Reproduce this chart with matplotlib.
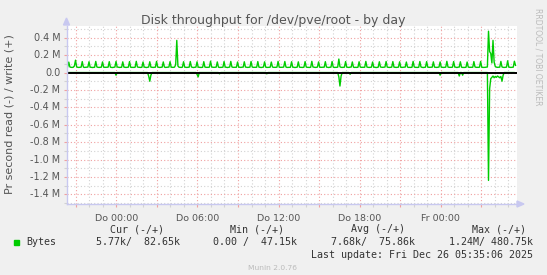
import matplotlib.pyplot as plt
from matplotlib.patches import Rectangle
from matplotlib.ticker import MultipleLocator

W, H = 547, 275

# write throughput, kB/s, one value per 5 min (12 per row = 1 hour)
write_k = [
    62, 63, 120, 64, 60, 59, 61, 75, 142, 66, 60, 59,
    60, 62, 126, 63, 59, 60, 61, 63, 124, 62, 60, 58,
    59, 61, 128, 64, 60, 59, 60, 62, 122, 63, 60, 60,
    61, 62, 125, 62, 59, 58, 60, 63, 127, 64, 61, 59,
    60, 61, 123, 63, 60, 59, 60, 62, 126, 62, 59, 60,
    59, 62, 129, 64, 61, 60, 59, 61, 121, 63, 60, 58,
    60, 63, 124, 62, 60, 59, 61, 62, 128, 64, 60, 59,
    61, 62, 122, 63, 59, 60, 60, 63, 125, 62, 60, 60,
    62, 90, 370, 75, 61, 60, 59, 62, 124, 63, 60, 59,
    60, 62, 127, 64, 60, 58, 61, 62, 123, 62, 60, 59,
    59, 61, 125, 63, 60, 60, 60, 63, 131, 64, 61, 60,
    61, 62, 122, 62, 59, 59, 60, 62, 126, 63, 60, 58,
    60, 63, 128, 64, 60, 60, 59, 61, 121, 62, 60, 59,
    62, 62, 124, 63, 61, 59, 60, 62, 127, 64, 60, 60,
    59, 61, 126, 62, 60, 58, 61, 63, 123, 63, 59, 59,
    60, 62, 121, 64, 60, 60, 60, 62, 128, 62, 60, 60,
    61, 63, 127, 63, 59, 59, 60, 61, 124, 63, 61, 58,
    60, 62, 123, 62, 60, 60, 59, 62, 126, 64, 60, 59,
    59, 61, 129, 64, 61, 59, 60, 63, 122, 62, 60, 60,
    61, 62, 125, 63, 60, 58, 61, 62, 127, 63, 59, 59,
    60, 62, 155, 66, 60, 59, 60, 62, 126, 63, 60, 59,
    62, 63, 122, 62, 59, 60, 59, 61, 124, 64, 60, 60,
    60, 61, 128, 63, 60, 59, 60, 62, 121, 62, 61, 58,
    59, 62, 124, 64, 61, 60, 61, 63, 127, 63, 60, 59,
    61, 62, 126, 62, 60, 59, 60, 62, 123, 62, 59, 60,
    60, 63, 121, 63, 59, 60, 59, 61, 128, 64, 60, 59,
    59, 61, 127, 64, 60, 58, 60, 62, 125, 63, 60, 60,
    61, 62, 123, 62, 61, 59, 61, 63, 122, 62, 60, 59,
    60, 62, 129, 63, 60, 60, 60, 62, 126, 64, 61, 58,
    62, 63, 124, 62, 59, 59, 59, 61, 121, 63, 60, 60,
    60, 61, 126, 64, 60, 60, 60, 62, 128, 62, 59, 59,
    60, 62, 64, 475, 240, 220, 110, 370, 120, 70, 62, 60,
    61, 62, 128, 64, 60, 59, 60, 62, 135, 63, 60, 59,
    60, 62, 130, 82.65,
]

# read throughput, kB/s, non-zero samples only
read_idx = [44, 73, 74, 75, 116, 117, 136, 178, 242, 243, 244, 252, 332,
            349, 352, 375, 376, 377, 378, 379, 380, 381, 382, 383, 384,
            385, 386, 387, 388, 399]
read_k = [30, 40, 100, 30, 20, 50, 15, 15, 50, 155, 40, 20, 30,
          40, 30, 1240, 185, 70, 55, 40, 60, 45, 55, 40, 50,
          60, 45, 100, 30, 5.77]

x_labels = ["Do 00:00", "Do 06:00", "Do 12:00", "Do 18:00", "Fr 00:00"]
x_label_pos = [0, 6, 12, 18, 24]

legend_heads = ["Cur (-/+)", "Min (-/+)", "Avg (-/+)", "Max (-/+)"]
legend_vals = ["5.77k/  82.65k", "0.00 /  47.15k", "7.68k/  75.86k", "1.24M/ 480.75k"]

# sample times in hours relative to Do 00:00
t0 = -3.7
hours = [t0 + i * 5 / 60 for i in range(len(write_k))]
read_full = [0.0] * len(write_k)
for i, v in zip(read_idx, read_k):
    read_full[i] = v

green = '#00CC00'
bg = '#F0F0F0'
axis_col = '#C8C8F0'
mgrid = '#F0A0A0'
grid = '#D2D2D2'

fig = plt.figure(figsize=(W / 100, H / 100), dpi=100, facecolor=bg)
ax = fig.add_axes([66.5 / W, 71 / H, 450.5 / W, 178 / H])
ax.set_facecolor('white')

ax.set_xlim(-3.7, 29.66)
ax.set_ylim(-1.511e6, 0.535e6)

ax.xaxis.set_major_locator(MultipleLocator(3))
ax.xaxis.set_minor_locator(MultipleLocator(1))
ax.yaxis.set_major_locator(MultipleLocator(0.2e6))
ax.yaxis.set_minor_locator(MultipleLocator(0.1e6))
ax.grid(which='major', color=mgrid, linestyle=(0, (1, 2)), lw=0.8)
ax.grid(which='minor', color=grid, linestyle=(0, (1, 2)), lw=0.8)
ax.set_axisbelow(True)

ax.plot(hours, [v * 1e3 for v in write_k], color=green, lw=1)
ax.plot(hours, [-v * 1e3 for v in read_full], color=green, lw=1)
ax.axhline(0, color='black', lw=1.4)

# tick labels
ax.set_xticklabels([])
ax.set_yticklabels([])
ax.tick_params(which='major', length=2.5, color=mgrid, width=0.8)
ax.tick_params(which='minor', length=2.5, color=grid, width=0.8)
for p, lab in zip(x_label_pos, x_labels):
    ax.text(p, -0.055, lab, transform=ax.get_xaxis_transform(), ha='center',
            va='top', fontsize=6.8, color='#555555')
yvals = [0.4, 0.2, 0.0, -0.2, -0.4, -0.6, -0.8, -1.0, -1.2, -1.4]
for v in yvals:
    lab = "0.0" if v == 0 else f"{v:.1f} M"
    ax.text(-0.014, v * 1e6, lab, transform=ax.get_yaxis_transform(),
            ha='right', va='center', fontsize=6.9, color='#555555')

for s in ['top', 'right']:
    ax.spines[s].set_visible(False)
for s in ['left', 'bottom']:
    ax.spines[s].set_color(axis_col)
    ax.spines[s].set_linewidth(1)

# axis arrows
fig.patches.append(plt.Polygon([[63.5 / W, (H - 25) / H], [69.5 / W, (H - 25) / H],
                                [66.5 / W, (H - 18) / H]], closed=True,
                               transform=fig.transFigure, color=axis_col))
fig.patches.append(plt.Polygon([[517 / W, (H - 201) / H], [517 / W, (H - 207) / H],
                                [524 / W, (H - 204) / H]], closed=True,
                               transform=fig.transFigure, color=axis_col))

fig.text(273.5 / W, 1 - 20.5 / H, "Disk throughput for /dev/pve/root - by day",
         ha='center', va='center', fontsize=9, color='#555555')
fig.text(10 / W, 1 - 114 / H, "Pr second read (-) / write (+)", rotation=90,
         ha='center', va='center', fontsize=8, color='#555555')
fig.text(538 / W, 1 - 8 / H, "RRDTOOL / TOBI OETIKER", rotation=-90,
         ha='center', va='top', fontsize=5.5, color='#BBBBBB')

mono = 'DejaVu Sans Mono'
head_right = [164, 284, 405, 526]
val_right = [180, 297, 415, 533]
for x, t in zip(head_right, legend_heads):
    fig.text(x / W, 1 - 229 / H, t, ha='right', va='center', fontsize=7.2,
             family=mono, color='#333333')
for x, t in zip(val_right, legend_vals):
    fig.text(x / W, 1 - 242.3 / H, t, ha='right', va='center', fontsize=7.2,
             family=mono, color='#333333')
fig.patches.append(Rectangle((14 / W, 1 - 245 / H), 5 / W, 5 / H,
                             transform=fig.transFigure, color=green))
fig.text(26 / W, 1 - 242.3 / H, "Bytes", ha='left', va='center', fontsize=7.2,
         family=mono, color='#333333')
fig.text(533 / W, 1 - 254.5 / H, "Last update: Fri Dec 26 05:35:06 2025",
         ha='right', va='center', fontsize=7.2, family=mono, color='#333333')
fig.text(272.5 / W, 1 - 267.5 / H, "Munin 2.0.76", ha='center', va='center',
         fontsize=5.4, color='#BBBBBB')

fig.savefig('out.png', dpi=100, facecolor=bg)
